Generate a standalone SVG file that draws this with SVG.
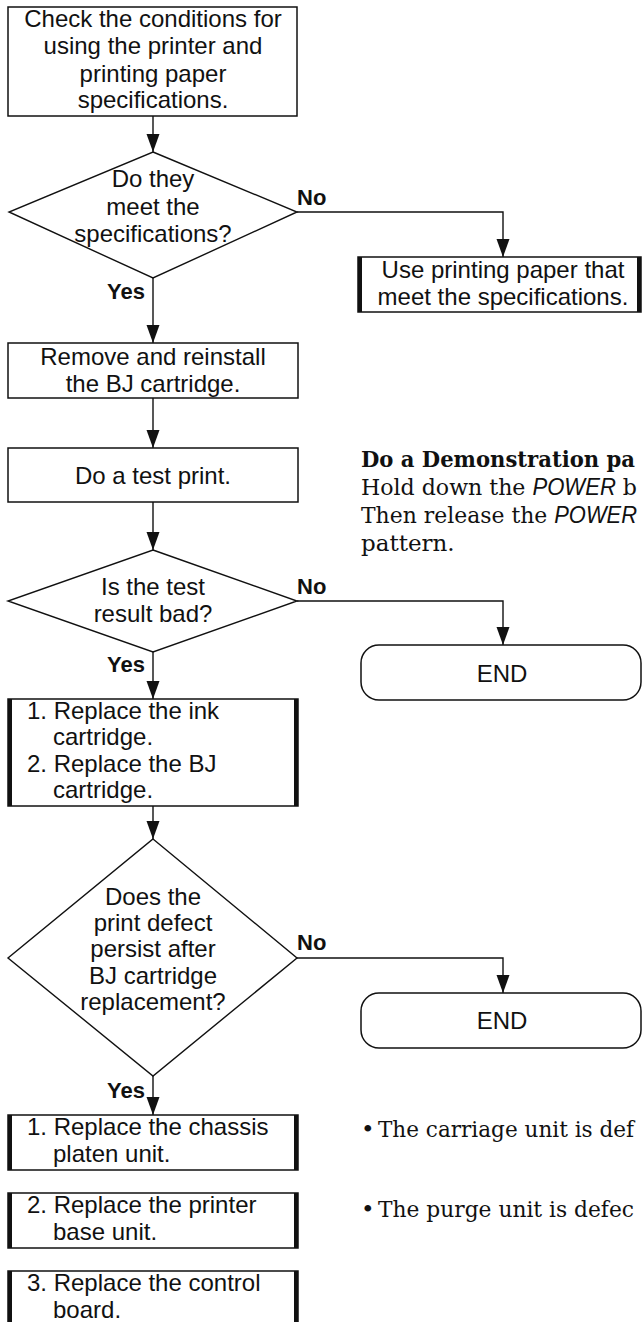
<svg xmlns="http://www.w3.org/2000/svg" width="643" height="1322" viewBox="0 0 643 1322">
  <defs>
    <marker id="arrow" markerUnits="userSpaceOnUse" markerWidth="18" markerHeight="14" refX="18" refY="7" orient="auto">
      <path d="M0,0.5 L18,7 L0,13.5 z" fill="#111"/>
    </marker>
    <style>
      .box { fill: #fff; stroke: #111; stroke-width: 1.5; }
      .side { stroke: #111; stroke-width: 4; }
      .dia { fill: #fff; stroke: #111; stroke-width: 1.4; }
      .term { fill: #fff; stroke: #111; stroke-width: 1.5; }
      .conn { fill: none; stroke: #111; stroke-width: 1.4; marker-end: url(#arrow); }
      .t { font-family: "Liberation Sans", Arial, sans-serif; font-size: 24px; fill: #111; }
      .c { text-anchor: middle; }
      .lbl { font-family: "Liberation Sans", Arial, sans-serif; font-size: 22px; font-weight: bold; fill: #111; }
      .serif { font-family: "DejaVu Serif", "Liberation Serif", serif; font-size: 23px; fill: #111; }
      .it { font-family: "Liberation Sans", Arial, sans-serif; font-style: italic; }
    </style>
  </defs>
  <rect width="643" height="1322" fill="#fff"/>

  <!-- connectors -->
  <g id="connectors">
    <path class="conn" d="M153,116 V152"/>
    <path class="conn" d="M153,278 V343"/>
    <path class="conn" d="M153,398 V448"/>
    <path class="conn" d="M153,502 V550"/>
    <path class="conn" d="M153,652 V699"/>
    <path class="conn" d="M153,806 V839"/>
    <path class="conn" d="M153,1076 V1115"/>
    <path class="conn" d="M297,212 H503 V257"/>
    <path class="conn" d="M297,601 H503 V645"/>
    <path class="conn" d="M297,958 H503 V993"/>
    <text class="lbl" x="297" y="205">No</text>
    <text class="lbl" x="145" y="299" text-anchor="end">Yes</text>
    <text class="lbl" x="297" y="594">No</text>
    <text class="lbl" x="145" y="672" text-anchor="end">Yes</text>
    <text class="lbl" x="297" y="950">No</text>
    <text class="lbl" x="145" y="1098" text-anchor="end">Yes</text>
  </g>

  <!-- process steps -->
  <g id="check-conditions">
    <rect class="box" x="8" y="7" width="289" height="109"/>
    <text class="t c" x="153" y="27">Check the conditions for</text>
    <text class="t c" x="153" y="54">using the printer and</text>
    <text class="t c" x="153" y="82">printing paper</text>
    <text class="t c" x="153" y="108">specifications.</text>
  </g>

  <g id="meet-specs">
    <polygon class="dia" points="153,152 297,212 153,278 9,212"/>
    <text class="t c" x="153" y="187">Do they</text>
    <text class="t c" x="153" y="215">meet the</text>
    <text class="t c" x="153" y="242">specifications?</text>
  </g>

  <g id="use-paper">
    <rect class="box" x="358" y="257" width="283" height="55"/>
    <line class="side" x1="360" y1="257" x2="360" y2="312"/>
    <line class="side" x1="639" y1="257" x2="639" y2="312"/>
    <text class="t c" x="503" y="278">Use printing paper that</text>
    <text class="t c" x="503" y="305">meet the specifications.</text>
  </g>

  <g id="reinstall-bj">
    <rect class="box" x="8" y="343" width="290" height="55"/>
    <text class="t c" x="153" y="365">Remove and reinstall</text>
    <text class="t c" x="153" y="392">the BJ cartridge.</text>
  </g>

  <g id="test-print">
    <rect class="box" x="8" y="448" width="290" height="54"/>
    <text class="t c" x="153" y="484">Do a test print.</text>
  </g>

  <g id="demo-note">
    <text class="serif" x="361" y="467" font-weight="bold" textLength="274" lengthAdjust="spacingAndGlyphs">Do a Demonstration pa</text>
    <text class="serif" x="361" y="495" textLength="276" lengthAdjust="spacingAndGlyphs">Hold down the <tspan class="it">POWER</tspan> b</text>
    <text class="serif" x="361" y="523" textLength="276" lengthAdjust="spacingAndGlyphs">Then release the <tspan class="it">POWER</tspan></text>
    <text class="serif" x="361" y="551">pattern.</text>
  </g>

  <g id="result-bad">
    <polygon class="dia" points="153,550 297,601 153,652 8,601"/>
    <text class="t c" x="153" y="595">Is the test</text>
    <text class="t c" x="153" y="622">result bad?</text>
  </g>

  <g id="end-1">
    <rect class="term" x="361" y="645" width="280" height="55" rx="18" ry="18"/>
    <text class="t c" x="502" y="682">END</text>
  </g>

  <g id="replace-ink-bj">
    <rect class="box" x="8" y="699" width="290" height="107"/>
    <line class="side" x1="10" y1="699" x2="10" y2="806"/>
    <line class="side" x1="296" y1="699" x2="296" y2="806"/>
    <text class="t" x="27" y="719">1. Replace the ink</text>
    <text class="t" x="53" y="745">cartridge.</text>
    <text class="t" x="27" y="772">2. Replace the BJ</text>
    <text class="t" x="53" y="798">cartridge.</text>
  </g>

  <g id="defect-persists">
    <polygon class="dia" points="153,839 297,958 153,1076 8,958"/>
    <text class="t c" x="153" y="905">Does the</text>
    <text class="t c" x="153" y="931">print defect</text>
    <text class="t c" x="153" y="957">persist after</text>
    <text class="t c" x="153" y="984">BJ cartridge</text>
    <text class="t c" x="153" y="1010">replacement?</text>
  </g>

  <g id="end-2">
    <rect class="term" x="361" y="993" width="280" height="55" rx="18" ry="18"/>
    <text class="t c" x="502" y="1029">END</text>
  </g>

  <g id="replace-chassis">
    <rect class="box" x="8" y="1115" width="290" height="55"/>
    <line class="side" x1="10" y1="1115" x2="10" y2="1170"/>
    <line class="side" x1="296" y1="1115" x2="296" y2="1170"/>
    <text class="t" x="27" y="1135">1. Replace the chassis</text>
    <text class="t" x="53" y="1162">platen unit.</text>
  </g>

  <g id="replace-base">
    <rect class="box" x="8" y="1193" width="290" height="55"/>
    <line class="side" x1="10" y1="1193" x2="10" y2="1248"/>
    <line class="side" x1="296" y1="1193" x2="296" y2="1248"/>
    <text class="t" x="27" y="1213">2. Replace the printer</text>
    <text class="t" x="53" y="1240">base unit.</text>
  </g>

  <g id="replace-board">
    <rect class="box" x="8" y="1271" width="290" height="55"/>
    <line class="side" x1="10" y1="1271" x2="10" y2="1326"/>
    <line class="side" x1="296" y1="1271" x2="296" y2="1326"/>
    <text class="t" x="27" y="1291">3. Replace the control</text>
    <text class="t" x="53" y="1318">board.</text>
  </g>

  <g id="cause-notes">
    <text class="serif" x="361" y="1137" font-size="15">•</text>
    <text class="serif" x="378" y="1137" textLength="256" lengthAdjust="spacingAndGlyphs">The carriage unit is def</text>
    <text class="serif" x="361" y="1217" font-size="15">•</text>
    <text class="serif" x="378" y="1217" textLength="256" lengthAdjust="spacingAndGlyphs">The purge unit is defec</text>
  </g>
</svg>
